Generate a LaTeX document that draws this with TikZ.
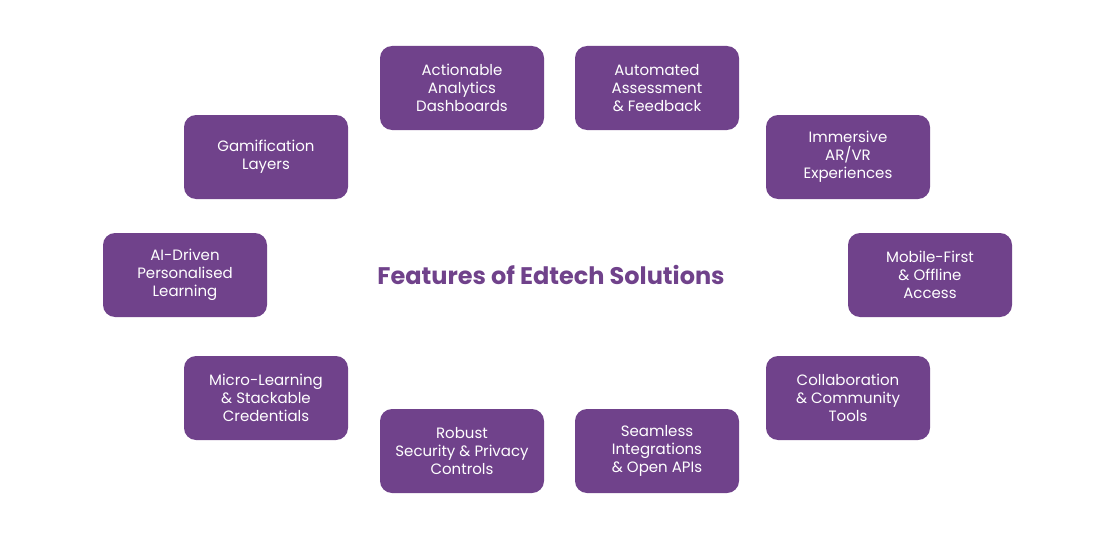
\documentclass[tikz,border=0pt]{standalone}
\usepackage{fontspec}
\setmainfont{Poppins}
\usepackage{xcolor}
\definecolor{featurepurple}{HTML}{70428B}

\tikzset{
    featurebox/.style = {fill = featurepurple, rectangle, rounded corners = 12pt,
        minimum width = 164pt, minimum height = 84pt, align = center,
        text = white, font = \fontsize{15pt}{18pt}\selectfont}
}

\begin{document}
\begin{tikzpicture}
        \useasboundingbox (0pt, 0pt) rectangle (1101pt, -551pt);

        % Title
        \node [text = featurepurple, font = \fontsize{24pt}{28pt}\selectfont\bfseries] (title) at (551pt, -275pt) {Features of Edtech Solutions};

        % Nodes
        \node [featurebox] (analytics) at (462pt, -88pt) {Actionable\\Analytics\\Dashboards};
        \node [featurebox] (assessment) at (657pt, -88pt) {Automated\\Assessment\\\& Feedback};
        \node [featurebox] (arvr) at (848pt, -157pt) {Immersive\\AR/VR\\Experiences};
        \node [featurebox] (mobile) at (930pt, -275pt) {Mobile-First\\\& Offline\\Access};
        \node [featurebox] (collab) at (848pt, -398pt) {Collaboration\\\& Community\\Tools};
        \node [featurebox] (apis) at (657pt, -451pt) {Seamless\\Integrations\\\& Open APIs};
        \node [featurebox] (security) at (462pt, -451pt) {Robust\\Security \& Privacy\\Controls};
        \node [featurebox] (micro) at (266pt, -398pt) {Micro-Learning\\\& Stackable\\Credentials};
        \node [featurebox] (personal) at (185pt, -275pt) {AI-Driven\\Personalised\\Learning};
        \node [featurebox] (gamify) at (266pt, -157pt) {Gamification\\Layers};

\end{tikzpicture}
\end{document}
